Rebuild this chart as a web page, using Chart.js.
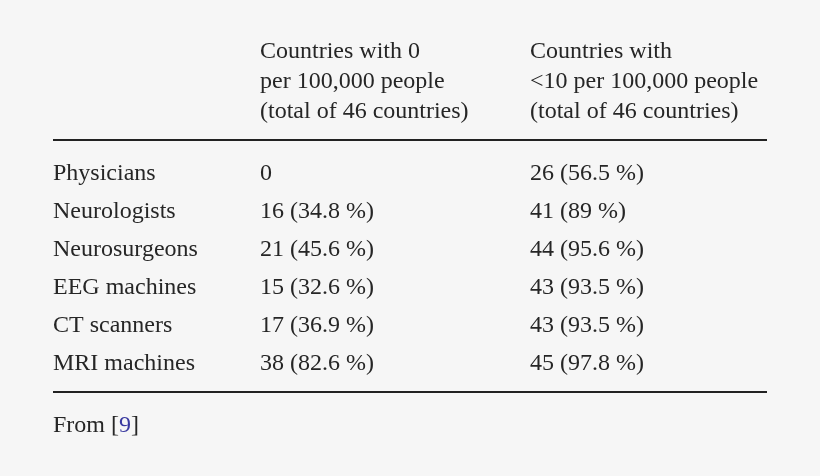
<!DOCTYPE html>
<html><head><meta charset="utf-8">
<script src="https://cdn.jsdelivr.net/npm/chart.js@4/dist/chart.umd.min.js"></script>
<style>html,body{margin:0;padding:0;background:#f6f6f6;}</style>
</head><body>
<canvas id="c" width="820" height="476"></canvas>
<script>
const headers = [
  ["Countries with 0", "per 100,000 people", "(total of 46 countries)"],
  ["Countries with", "<10 per 100,000 people", "(total of 46 countries)"]
];
const categories = ["Physicians","Neurologists","Neurosurgeons","EEG machines","CT scanners","MRI machines"];
const zeroCounts = ["0","16 (34.8 %)","21 (45.6 %)","15 (32.6 %)","17 (36.9 %)","38 (82.6 %)"];
const underTenCounts = ["26 (56.5 %)","41 (89 %)","44 (95.6 %)","43 (93.5 %)","43 (93.5 %)","45 (97.8 %)"];
const source = ["From [", "9", "]"];

const tablePlugin = {
  id: 'table',
  afterDraw(chart) {
    const ctx = chart.ctx;
    ctx.save();
    ctx.fillStyle = '#f6f6f6';
    ctx.fillRect(0,0,chart.width,chart.height);
    ctx.font = '24px "Liberation Serif", "DejaVu Serif", serif';
    ctx.textBaseline = 'alphabetic';
    ctx.fillStyle = '#262626';
    const cols = [53, 260, 530];
    headers.forEach((h, i) => h.forEach((t, j) => ctx.fillText(t, cols[i+1], 58 + j*30)));
    ctx.strokeStyle = '#222'; ctx.lineWidth = 2;
    ctx.beginPath(); ctx.moveTo(53,140); ctx.lineTo(767,140); ctx.stroke();
    categories.forEach((c, i) => {
      const y = 180 + i*38;
      ctx.fillText(c, cols[0], y);
      ctx.fillText(zeroCounts[i], cols[1], y);
      ctx.fillText(underTenCounts[i], cols[2], y);
    });
    ctx.beginPath(); ctx.moveTo(53,392); ctx.lineTo(767,392); ctx.stroke();
    let x = 53;
    source.forEach((s, i) => {
      ctx.fillStyle = i === 1 ? '#3a3aa0' : '#262626';
      ctx.fillText(s, x, 432);
      x += ctx.measureText(s).width;
    });
    ctx.restore();
  }
};

new Chart(document.getElementById('c'), {
  type: 'bar',
  data: { labels: categories, datasets: [{ data: categories.map(() => null) }] },
  options: {
    responsive: false, animation: false, devicePixelRatio: 1,
    plugins: { legend: { display: false }, tooltip: { enabled: false } },
    scales: { x: { display: false }, y: { display: false } }
  },
  plugins: [tablePlugin]
});
</script>
</body></html>
